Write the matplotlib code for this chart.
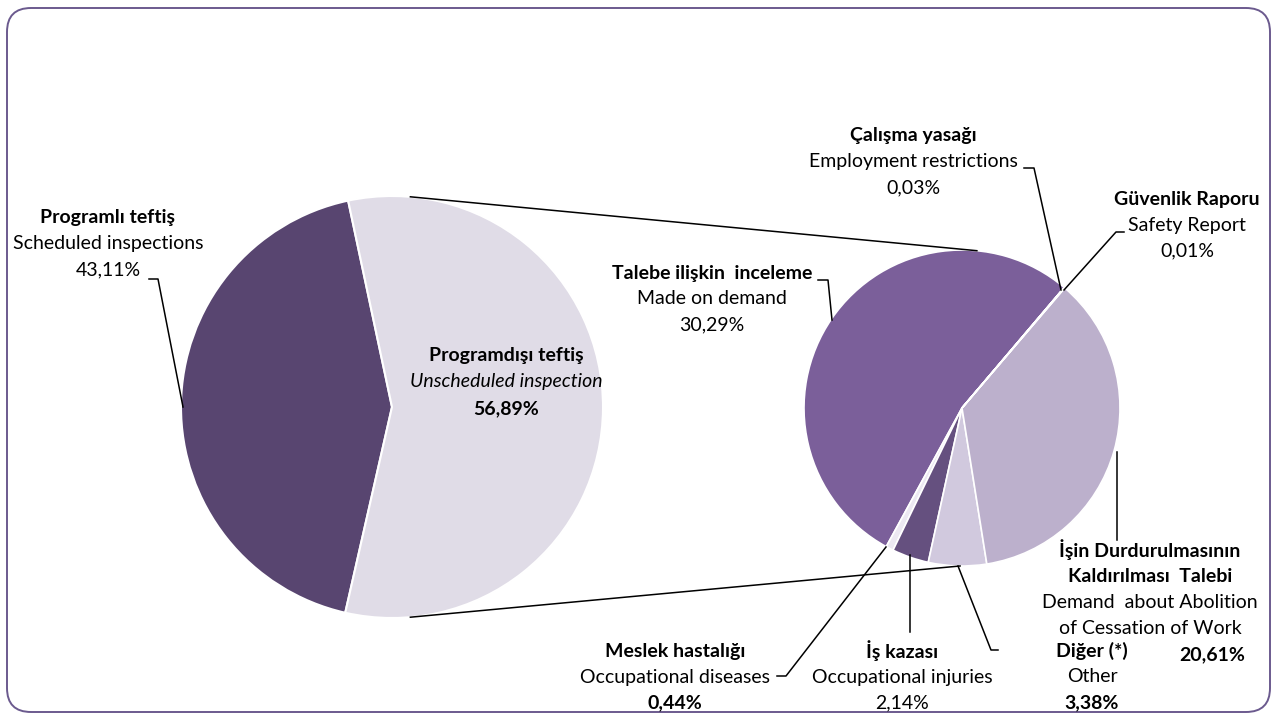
"""
Pie-of-pie chart: inspection types (scheduled vs unscheduled) and
the breakdown of unscheduled inspections.
"""

import numpy as np
import matplotlib
matplotlib.use('Agg')
import matplotlib.pyplot as plt
from matplotlib.patches import FancyBboxPatch

# Data
main_labels = ['Programlı teftiş', 'Programdışı teftiş']
main_labels_en = ['Scheduled inspections', 'Unscheduled inspection']
main_values = [43.11, 56.89]

sub_labels = ['Talebe ilişkin  inceleme', 'Meslek hastalığı', 'İş kazası', 'Diğer (*)',
              'İşin Durdurulmasının\nKaldırılması  Talebi', 'Çalışma yasağı', 'Güvenlik Raporu']
sub_labels_en = ['Made on demand', 'Occupational diseases', 'Occupational injuries', 'Other',
                 'Demand  about Abolition\nof Cessation of Work', 'Employment restrictions',
                 'Safety Report']
sub_values = [30.29, 0.44, 2.14, 3.38, 20.61, 0.03, 0.01]

main_colors = ['#584570', '#e0dce7']
sub_colors = ['#7b5f9a', '#ece8f2', '#65507f', '#d1c9de', '#bcb0cc', '#8a7aa3', '#c8bcd8']

W, H = 1277, 720
FONT = 'Lato'
FS = 14


def fmt(v):
    return f'{v:.2f}'.replace('.', ',') + '%'


def img(x, y):
    # image pixel coordinates -> data coordinates (y up)
    return x, H - y


fig = plt.figure(figsize=(W / 100, H / 100), dpi=100)
ax = fig.add_axes([0, 0, 1, 1])

# rounded frame
frame = FancyBboxPatch((7, 8), W - 14, H - 16, boxstyle='round,pad=0,rounding_size=24',
                       facecolor='white', edgecolor='#6b5a8e', linewidth=1.4, zorder=0)
ax.add_patch(frame)

# Main pie
c1 = img(392, 407)
r1 = 211
ax.pie(main_values, colors=main_colors, startangle=102, counterclock=True,
       center=c1, radius=r1, frame=True,
       wedgeprops=dict(edgecolor='white', linewidth=1.5))

# Sub pie
c2 = img(962, 408)
r2 = 158
ax.pie(sub_values, colors=sub_colors, startangle=49.7, counterclock=True,
       center=c2, radius=r2, frame=True,
       wedgeprops=dict(edgecolor='white', linewidth=1.2))
ax.set_xlim(0, W)
ax.set_ylim(0, H)
ax.set_aspect('equal')
ax.axis('off')


def on_circle(c, r, ang):
    a = np.deg2rad(ang)
    return c[0] + r * np.cos(a), c[1] + r * np.sin(a)


# connecting lines between pies
for a1, a2 in [(85, 84.6), (-85, -90.7)]:
    p1 = on_circle(c1, r1, a1)
    p2 = on_circle(c2, r2, a2)
    ax.plot([p1[0], p2[0]], [p1[1], p2[1]], color='black', lw=1.1, zorder=1)


def label(x, y, lines, step=26):
    # lines: list of (text, weight, style)
    for i, (t, w, s) in enumerate(lines):
        ax.text(x, H - (y + i * step), t, ha='center', va='center', fontsize=FS,
                family=FONT, fontweight=w, fontstyle=s, color='black', zorder=5)


def leader(points):
    xs = [p[0] for p in points]
    ys = [H - p[1] for p in points]
    ax.plot(xs, ys, color='black', lw=1.1, zorder=4)


# Main pie labels
label(108, 218, [(main_labels[0], 'bold', 'normal'),
                 (main_labels_en[0], 'normal', 'normal'),
                 (fmt(main_values[0]), 'normal', 'normal')])
leader([(149, 279), (158, 279), (183, 407)])

label(506, 355, [(main_labels[1], 'bold', 'normal'),
                 (main_labels_en[1], 'normal', 'italic'),
                 (fmt(main_values[1]), 'bold', 'normal')], step=27)

# Sub pie labels
label(712, 273, [(sub_labels[0], 'bold', 'normal'),
                 (sub_labels_en[0], 'normal', 'normal'),
                 (fmt(sub_values[0]), 'normal', 'normal')])
leader([(818, 280), (828, 280), (832, 320)])

label(913, 136, [(sub_labels[5], 'bold', 'normal'),
                 (sub_labels_en[5], 'normal', 'normal'),
                 (fmt(sub_values[5]), 'normal', 'normal')])
leader([(1024, 168), (1034, 168), (1061, 290)])

label(1187, 199, [(sub_labels[6], 'bold', 'normal'),
                  (sub_labels_en[6], 'normal', 'normal'),
                  (fmt(sub_values[6]), 'normal', 'normal')])
leader([(1124, 232), (1116, 232), (1064, 290)])

l1, l2 = sub_labels[4].split('\n')
e1, e2 = sub_labels_en[4].split('\n')
label(1150, 550, [(l1, 'bold', 'normal'),
                  (l2, 'bold', 'normal'),
                  (e1, 'normal', 'normal'),
                  (e2, 'normal', 'normal')])
ax.text(1212, H - 655, fmt(sub_values[4]), ha='center', va='center', fontsize=FS,
        family=FONT, fontweight='bold', zorder=5)
leader([(1117, 452), (1117, 540)])

label(1092, 651, [(sub_labels[3], 'bold', 'normal'),
                  (sub_labels_en[3], 'normal', 'normal'),
                  (fmt(sub_values[3]), 'bold', 'normal')])
leader([(958, 566), (991, 650), (998, 650)])

label(902, 651, [(sub_labels[2], 'bold', 'normal'),
                 (sub_labels_en[2], 'normal', 'normal'),
                 (fmt(sub_values[2]), 'normal', 'normal')])
leader([(910, 555), (910, 632)])

label(675, 651, [(sub_labels[1], 'bold', 'normal'),
                 (sub_labels_en[1], 'normal', 'normal'),
                 (fmt(sub_values[1]), 'bold', 'normal')])
leader([(777, 676), (786, 676), (886, 547)])

fig.savefig('out.png', dpi=100)
plt.close(fig)
